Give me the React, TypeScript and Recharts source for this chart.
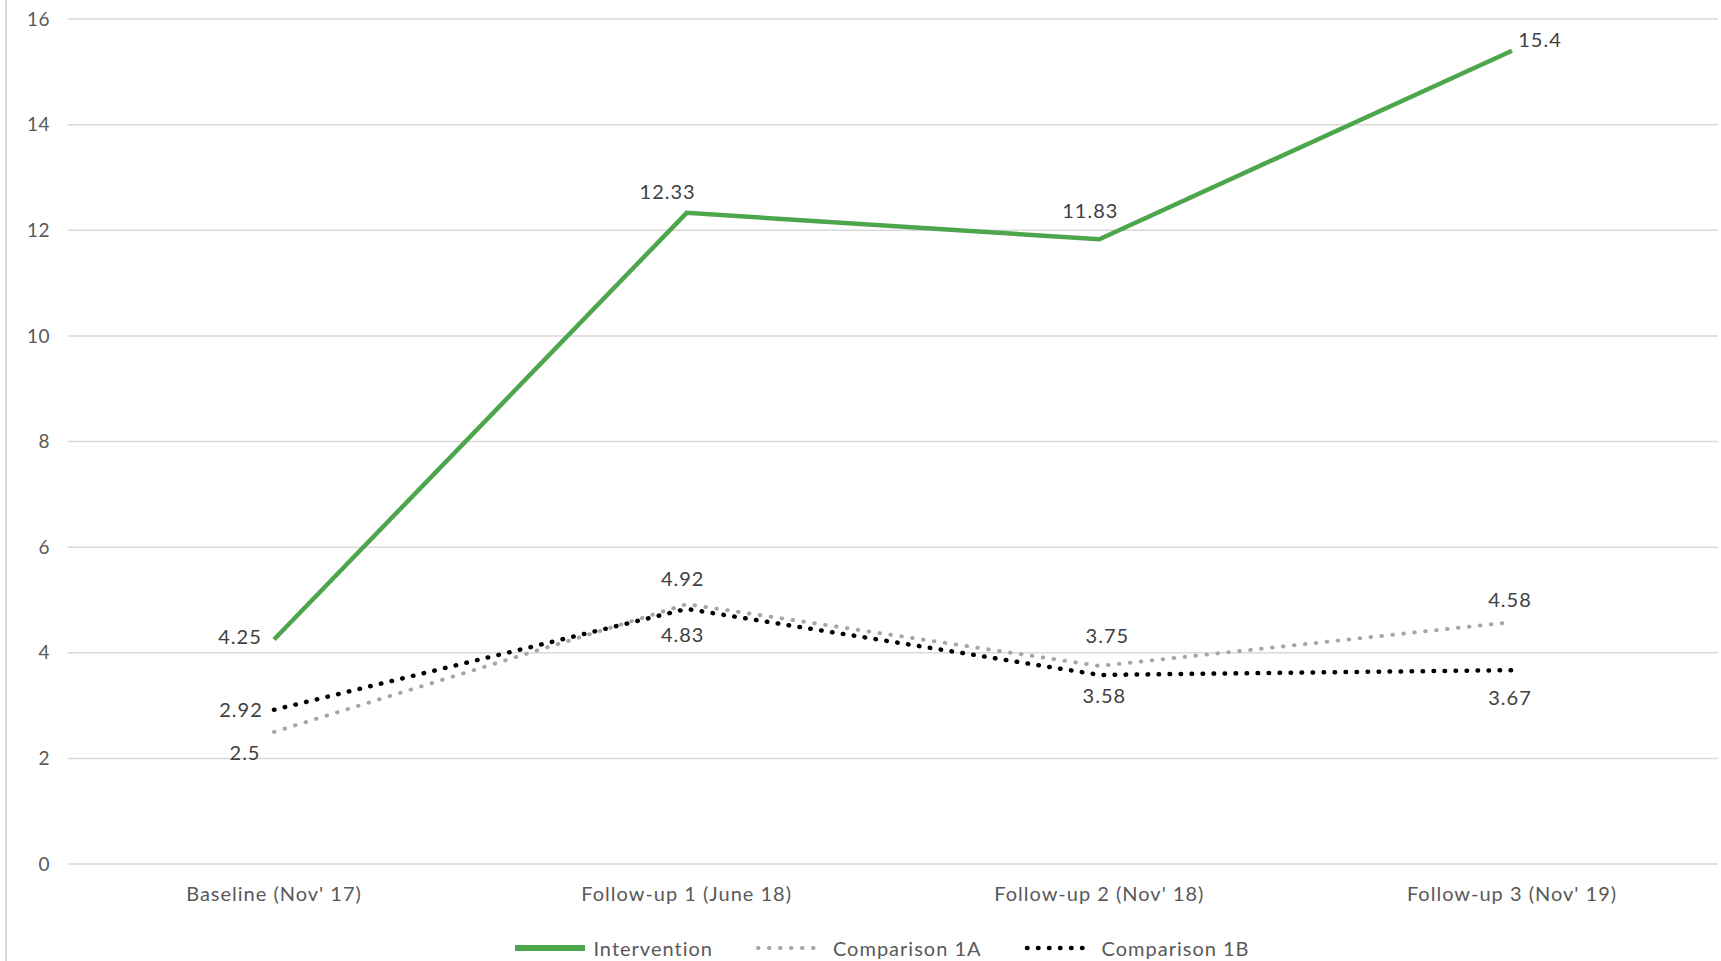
import { CartesianGrid, Line, LineChart, XAxis, YAxis } from 'recharts'

const categories = ["Baseline (Nov' 17)", 'Follow-up 1 (June 18)', "Follow-up 2 (Nov' 18)", "Follow-up 3 (Nov' 19)"]
const intervention = [4.25, 12.33, 11.83, 15.4]
const comparison1A = [2.5, 4.92, 3.75, 4.58]
const comparison1B = [2.92, 4.83, 3.58, 3.67]
const yTicks = [0, 2, 4, 6, 8, 10, 12, 14, 16]

const data = categories.map((c, i) => ({
  name: c,
  intervention: intervention[i],
  comp1A: comparison1A[i],
  comp1B: comparison1B[i],
}))

// label offsets (dx, dy) from the point, per series
const interventionOffsets = [[-34, -4], [-19, -22], [-9, -29], [28, -12]]
const comp1AOffsets = [[-29, 20], [-4, -26], [8, -31], [-2, -23]]
const comp1BOffsets = [[-33, -1], [-4, 25], [5, 20], [-2, 27]]

const FONT = 'Lato, "Open Sans", sans-serif'
const TEXT = '#595959'
const GREEN = '#4ea64c'
const GREY = '#a6a6a6'

function makeLabel(offsets: number[][]) {
  return (props: any) => {
    const { x, y, value, index } = props
    const [dx, dy] = offsets[index] ?? [0, -14]
    return (
      <text
        x={x + dx}
        y={y + dy}
        textAnchor="middle"
        dominantBaseline="central"
        fontSize={20}
        letterSpacing={1}
        fontFamily={FONT}
        fill="#404040"
      >
        {value}
      </text>
    )
  }
}

function LegendItem({ label, color, dotted, width }: { label: string; color: string; dotted?: boolean; width: number }) {
  return (
    <div style={{ display: 'flex', alignItems: 'center', marginRight: 42 }}>
      <svg width={70} height={10} style={{ marginRight: 8 }}>
        <line
          x1={dotted ? 3 : 0}
          y1={5}
          x2={dotted ? 69 : 70}
          y2={5}
          stroke={color}
          strokeWidth={width}
          strokeDasharray={dotted ? '0.5 10.5' : undefined}
          strokeLinecap={dotted ? 'round' : 'butt'}
        />
      </svg>
      <span>{label}</span>
    </div>
  )
}

export default function App() {
  return (
    <div style={{ position: 'absolute', left: 0, top: 0, width: 1721, height: 961, background: '#fff' }}>
      <div style={{ position: 'absolute', left: 5, top: 0, width: 2, height: 961, background: '#d9d9d9' }} />
      <LineChart width={1721} height={961} data={data} margin={{ top: 19, right: 3, bottom: 37, left: 0 }}>
        <CartesianGrid stroke="#d9d9d9" strokeWidth={1.5} vertical={false} />
        <XAxis
          dataKey="name"
          axisLine={false}
          tickLine={false}
          tickSize={0}
          tickMargin={23}
          height={60}
          padding={{ left: 206, right: 206 }}
          tick={{ fontSize: 20, letterSpacing: 1, fontFamily: FONT, fill: TEXT }}
          interval={0}
        />
        <YAxis
          domain={[0, 16]}
          ticks={yTicks}
          width={68}
          axisLine={false}
          tickLine={false}
          tickSize={0}
          tickMargin={18}
          tick={{ fontSize: 19, letterSpacing: 0.5, fontFamily: FONT, fill: TEXT }}
        />
        <Line
          dataKey="comp1A"
          stroke={GREY}
          strokeWidth={4}
          strokeDasharray="0.5 10.5"
          strokeLinecap="round"
          dot={false}
          activeDot={false}
          isAnimationActive={false}
          label={makeLabel(comp1AOffsets)}
        />
        <Line
          dataKey="comp1B"
          stroke="#000000"
          strokeWidth={4.5}
          strokeDasharray="0.5 10.5"
          strokeLinecap="round"
          dot={false}
          activeDot={false}
          isAnimationActive={false}
          label={makeLabel(comp1BOffsets)}
        />
        <Line
          dataKey="intervention"
          stroke={GREEN}
          strokeWidth={4.5}
          dot={false}
          activeDot={false}
          isAnimationActive={false}
          label={makeLabel(interventionOffsets)}
        />
      </LineChart>
      <div
        style={{
          position: 'absolute',
          left: 0,
          top: 936,
          width: 1721,
          display: 'flex',
          justifyContent: 'center',
          fontFamily: FONT,
          fontSize: 20,
          letterSpacing: 1,
          color: TEXT,
          paddingLeft: 86,
          boxSizing: 'border-box',
        }}
      >
        <LegendItem label="Intervention" color={GREEN} width={6} />
        <LegendItem label="Comparison 1A" color={GREY} dotted width={4} />
        <LegendItem label="Comparison 1B" color="#000" dotted width={4.5} />
      </div>
    </div>
  )
}
